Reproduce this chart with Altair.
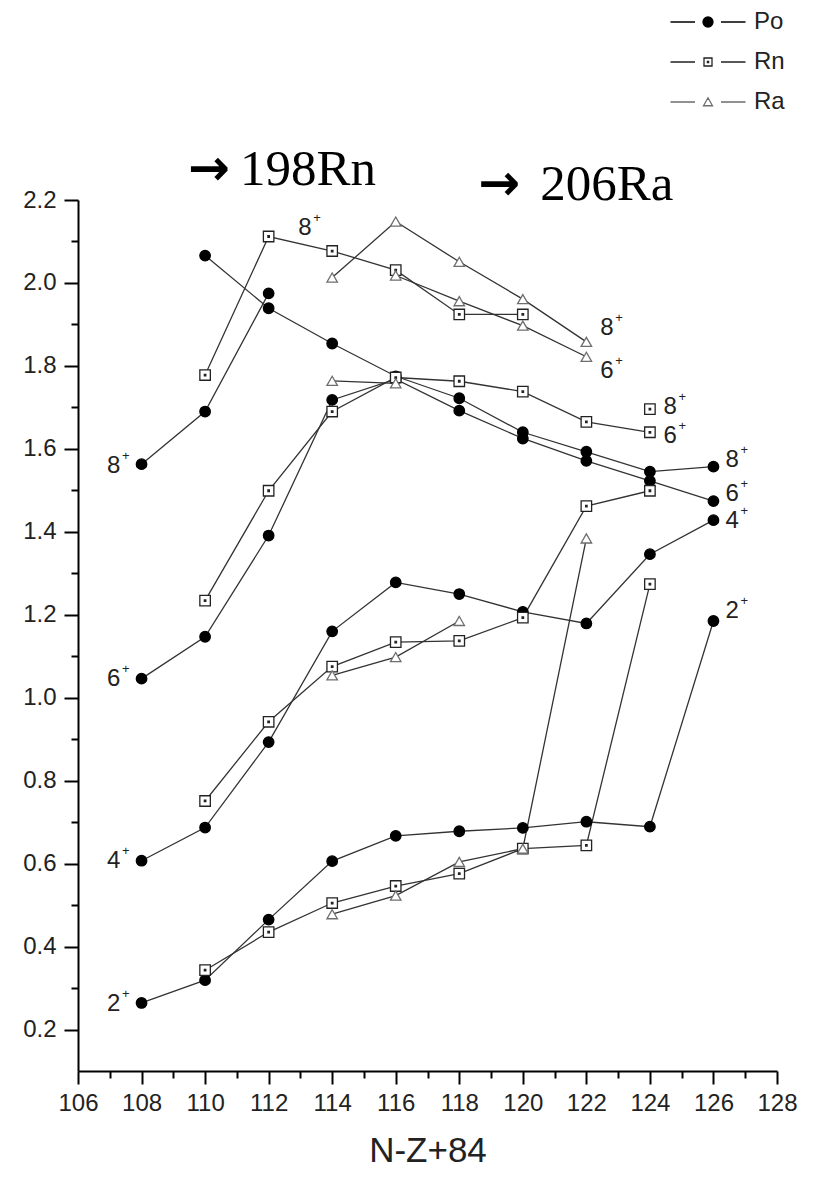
import altair as alt
import pandas as pd

# ---------------- data ----------------
NUCLEI = ["Po", "Rn", "Ra"]

PO_X = [108, 110, 112, 114, 116, 118, 120, 122, 124, 126]
PO_2 = [0.264, 0.319, 0.465, 0.606, 0.667, 0.678, 0.686, 0.701, 0.689, 1.185]
PO_4 = [0.607, 0.687, 0.893, 1.160, 1.278, 1.250, 1.207, 1.179, 1.346, 1.428]
PO_6 = [1.046, 1.147, 1.391, 1.718, 1.768, 1.692, 1.625, 1.571, 1.523, 1.474]
PO_8A_X = [108, 110, 112]
PO_8A = [1.563, 1.690, 1.975]
PO_8B_X = [110, 112, 114, 116, 118, 120, 122, 124, 126]
PO_8B = [2.066, 1.939, 1.854, 1.775, 1.722, 1.640, 1.593, 1.545, 1.557]

RN_X = [110, 112, 114, 116, 118, 120, 122, 124]
RN_2 = [0.343, 0.435, 0.505, 0.546, 0.576, 0.636, 0.644, 1.274]
RN_4 = [0.751, 0.942, 1.075, 1.134, 1.137, 1.193, 1.462, 1.499]
RN_6 = [1.234, 1.499, 1.690, 1.772, 1.763, 1.738, 1.665, 1.640]
RN_8A_X = [110, 112, 114, 116, 118, 120]
RN_8A = [1.778, 2.112, 2.077, 2.031, 1.924, 1.924]
RN_8B_X = [124]
RN_8B = [1.696]

RA_X = [114, 116, 118, 120, 122]
RA_2 = [0.478, 0.523, 0.604, 0.636, 1.384]
RA_4_X = [114, 116, 118]
RA_4 = [1.054, 1.098, 1.185]
RA_6A_X = [114, 116]
RA_6A = [1.764, 1.758]
RA_6B_X = [116, 118, 120, 122]
RA_6B = [2.018, 1.956, 1.897, 1.822]
RA_8 = [2.013, 2.148, 2.051, 1.961, 1.858]

# spin labels (text and the place where each sits, in data units)
LABEL_TEXT = ["8", "6", "4", "2", "8", "6", "4", "2", "8", "6", "8", "6", "8"]
LABEL_X = [106.91, 106.91, 106.91, 106.91, 126.38, 126.38, 126.38, 126.38,
           122.44, 122.44, 124.43, 124.43, 112.93]
LABEL_Y = [1.558, 1.046, 0.607, 0.262, 1.572, 1.490, 1.425, 1.208,
           1.891, 1.787, 1.702, 1.630, 2.132]

# annotations above the plot
ARROW_X = [109.46, 118.6]
NOTE_TEXT = ["198Rn", "206Ra"]
NOTE_X = [111.1, 120.55]
NOTE_Y = [2.236, 2.199]

X_TICKS = list(range(106, 129))
Y_TICKS = [round(0.2 + 0.1 * i, 1) for i in range(21)]

# ---------------- tables ----------------
series = [
    ("Po", "Po2", PO_X, PO_2), ("Po", "Po4", PO_X, PO_4), ("Po", "Po6", PO_X, PO_6),
    ("Po", "Po8a", PO_8A_X, PO_8A), ("Po", "Po8b", PO_8B_X, PO_8B),
    ("Rn", "Rn2", RN_X, RN_2), ("Rn", "Rn4", RN_X, RN_4), ("Rn", "Rn6", RN_X, RN_6),
    ("Rn", "Rn8a", RN_8A_X, RN_8A), ("Rn", "Rn8b", RN_8B_X, RN_8B),
    ("Ra", "Ra2", RA_X, RA_2), ("Ra", "Ra4", RA_4_X, RA_4),
    ("Ra", "Ra6a", RA_6A_X, RA_6A), ("Ra", "Ra6b", RA_6B_X, RA_6B),
    ("Ra", "Ra8", RA_X, RA_8),
]
rows = []
for nuc, sid, xs_, ys_ in series:
    for xv, yv in zip(xs_, ys_):
        rows.append({"nucleus": nuc, "sid": sid, "x": xv, "y": yv})
df = pd.DataFrame(rows)

labels = pd.DataFrame({"t": LABEL_TEXT, "x": LABEL_X, "y": LABEL_Y, "p": ["+"] * len(LABEL_TEXT)})
notes = pd.DataFrame({"t": NOTE_TEXT, "x": NOTE_X, "y": NOTE_Y})
arrows = pd.DataFrame({"t": ["\u2192", "\u2192"], "x": ARROW_X, "y": NOTE_Y})

SANS = "Liberation Sans"
SERIF = "Liberation Serif"

SQUARE_DOT = "M-1,-1H1V1H-1ZM-0.14,-0.14H0.14V0.14H-0.14Z"
MARK_SHAPES = ["circle", SQUARE_DOT, "triangle-up"]
LEG_SHAPES = [
    "M-7.5,0H-2.6M2.6,0H7.5M-1,0A1,1,0,1,1,1,0A1,1,0,1,1,-1,0Z",
    "M-7.5,0H-2.6M2.6,0H7.5M-0.8,-0.8H0.8V0.8H-0.8ZM-0.12,-0.12H0.12V0.12H-0.12Z",
    "M-7.5,0H-2.6M2.6,0H7.5M0,-0.85L0.9,0.75H-0.9Z",
]
FILLS = ["black", "white", "white"]
STROKES = ["black", "#222222", "#6e6e6e"]

xs = alt.Scale(domain=[106, 128], nice=False, zero=False)
ys = alt.Scale(domain=[0.1, 2.2], nice=False, zero=False)

X = alt.X("x:Q", scale=xs, axis=alt.Axis(
    values=X_TICKS,
    labelExpr="datum.value % 2 === 0 ? datum.label : ''",
    tickSize={"condition": {"test": "datum.value % 2 === 0", "value": 13}, "value": 7},
    title="N-Z+84", labelPadding=7, titlePadding=18, labelFlush=False,
))
Y = alt.Y("y:Q", scale=ys, axis=alt.Axis(
    values=Y_TICKS,
    labelExpr="round(datum.value*10) % 2 === 0 ? format(datum.value, '.1f') : ''",
    tickSize={"condition": {"test": "round(datum.value*10) % 2 === 0", "value": 14}, "value": 7},
    title=None, labelPadding=8, labelFlush=False,
))

base = alt.Chart(df)

lines = base.mark_line(stroke="#333333", strokeWidth=1.3).encode(
    x=X, y=Y, detail="sid:N", order="x:Q"
)

leg = alt.Legend(
    orient="none", legendX=618, legendY=-190, title=None,
    symbolSize=100, symbolStrokeWidth=1.3, symbolOpacity=1,
    labelFont=SANS, labelFontSize=24, labelColor="#222222", labelOffset=34,
    rowPadding=16, padding=0,
)
legend_layer = base.mark_point(opacity=0, size=100).encode(
    x=X, y=Y,
    shape=alt.Shape("nucleus:N", scale=alt.Scale(domain=NUCLEI, range=LEG_SHAPES), legend=leg),
    fill=alt.Fill("nucleus:N", scale=alt.Scale(domain=NUCLEI, range=FILLS), legend=leg),
    stroke=alt.Stroke("nucleus:N", scale=alt.Scale(domain=NUCLEI, range=STROKES), legend=leg),
)

points = base.mark_point(opacity=1, size=110, strokeWidth=1.3).encode(
    x=X, y=Y,
    shape=alt.Shape("nucleus:N", scale=alt.Scale(domain=NUCLEI, range=MARK_SHAPES), legend=None),
    fill=alt.Fill("nucleus:N", scale=alt.Scale(domain=NUCLEI, range=FILLS), legend=None),
    stroke=alt.Stroke("nucleus:N", scale=alt.Scale(domain=NUCLEI, range=STROKES), legend=None),
)

lab = alt.Chart(labels).mark_text(
    align="left", baseline="middle", font=SANS, fontSize=24, color="#222222"
).encode(x=X, y=Y, text="t:N")
plus = alt.Chart(labels).mark_text(
    align="left", baseline="middle", font=SANS, fontSize=13, color="#222222", dx=15, dy=-10
).encode(x=X, y=Y, text="p:N")

note = alt.Chart(notes).mark_text(
    align="left", baseline="alphabetic", font=SERIF, fontSize=51, color="black"
).encode(x=X, y=Y, text="t:N")
arrow = alt.Chart(arrows).mark_text(
    align="left", baseline="alphabetic", font="DejaVu Sans", fontWeight="bold",
    fontSize=50, color="black"
).encode(x=X, y=Y, text="t:N")

chart = alt.layer(lines, legend_layer, points, lab, plus, note, arrow).resolve_scale(
    shape="independent", fill="independent", stroke="independent"
).properties(
    width=699, height=871,
    autosize=alt.AutoSizeParams(type="none"),
    padding={"left": 70, "top": 192, "right": 25, "bottom": 103},
).configure_view(stroke=None).configure_axis(
    grid=False, domainColor="black", domainWidth=2, tickColor="black", tickWidth=2,
    labelFont=SANS, labelFontSize=24, labelColor="#222222",
    titleFont=SANS, titleFontSize=35, titleFontWeight="normal", titleColor="#222222",
)

chart.save("out.html", embed_options={"renderer": "svg", "actions": False})
